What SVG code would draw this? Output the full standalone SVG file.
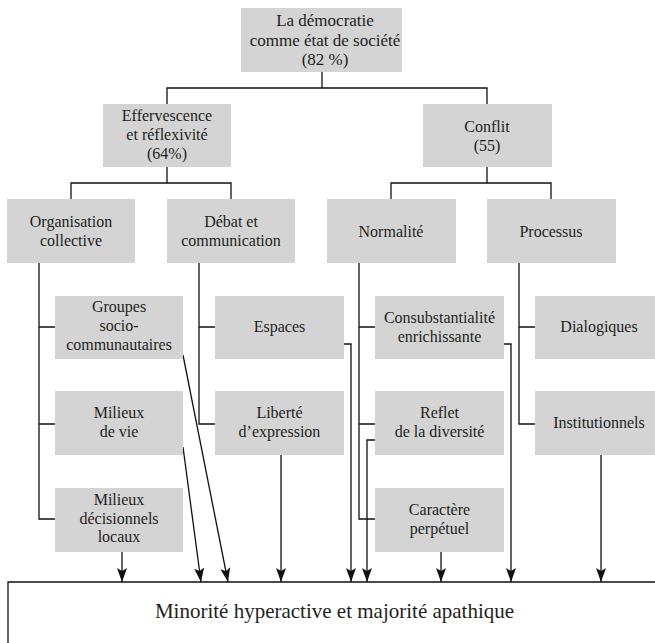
<svg xmlns="http://www.w3.org/2000/svg" width="655" height="643" viewBox="0 0 655 643">
<style>
.box{fill:#d4d4d5;stroke:none}
text{font-family:"Liberation Serif","Times New Roman",serif;font-size:16px;fill:#231f20;text-anchor:middle}
.ln{fill:none;stroke:#111;stroke-width:1.3}
.ar{fill:none;stroke:#111;stroke-width:1.3;marker-end:url(#ah)}
</style>
<defs>
<marker id="ah" markerUnits="userSpaceOnUse" markerWidth="15" markerHeight="11" refX="14" refY="5" orient="auto" viewBox="0 0 15 10">
<path d="M0,0 L14,5 L0,10 L3,5 z" fill="#111"/>
</marker>
</defs>
<rect width="655" height="643" fill="#fff"/>
<g id="connectors">
<path class="ln" d="M322,72V88M167,104V88H487V104"/>
<path class="ln" d="M167,167V183M71,199V183H231V199"/>
<path class="ln" d="M487,167V183M391,199V183H551V199"/>
<path class="ln" d="M39,263V519H55M39,327H55M39,424H55"/>
<path class="ln" d="M199,263V424H215M199,327H215"/>
<path class="ln" d="M359,263V519H375M359,327H375M359,424H375"/>
<path class="ln" d="M519,263V424H535M519,327H535"/>
<path class="ar" d="M122,552V582"/>
<path class="ar" d="M183,447L201,582"/>
<path class="ar" d="M183,355L228,582"/>
<path class="ar" d="M281,455V582"/>
<path class="ar" d="M344,344H351V582"/>
<path class="ar" d="M375,440H367V582"/>
<path class="ar" d="M441,552V582"/>
<path class="ar" d="M504,344H511V582"/>
<path class="ar" d="M601,455V582"/>
</g>
<g id="n-root"><rect class="box" x="241" y="8" width="161" height="64"/><text x="325" y="26" style="font-size:17px">La démocratie</text><text x="325" y="45.5" style="font-size:17px">comme état de société</text><text x="325" y="65" style="font-size:17px">(82 %)</text></g>
<g id="n-eff"><rect class="box" x="103" y="104" width="128" height="63"/><text x="167" y="121">Effervescence</text><text x="167" y="140">et réflexivité</text><text x="167" y="159">(64%)</text></g>
<g id="n-conflit"><rect class="box" x="423" y="104" width="129" height="63"/><text x="487" y="131.5">Conflit</text><text x="487" y="150.5">(55)</text></g>
<g id="n-org"><rect class="box" x="7" y="199" width="128" height="64"/><text x="71" y="227">Organisation</text><text x="71" y="245.5">collective</text></g>
<g id="n-debat"><rect class="box" x="167" y="199" width="128" height="64"/><text x="231" y="227">Débat et</text><text x="231" y="245.5">communication</text></g>
<g id="n-norm"><rect class="box" x="327" y="199" width="129" height="64"/><text x="391" y="236.5">Normalité</text></g>
<g id="n-proc"><rect class="box" x="487" y="199" width="129" height="64"/><text x="551" y="236.5">Processus</text></g>
<g id="n-groupes"><rect class="box" x="55" y="296" width="128" height="63"/><text x="119" y="312">Groupes</text><text x="119" y="331">socio-</text><text x="119" y="350">communautaires</text></g>
<g id="n-espaces"><rect class="box" x="215" y="296" width="129" height="63"/><text x="279.5" y="332">Espaces</text></g>
<g id="n-consub"><rect class="box" x="375" y="296" width="129" height="63"/><text x="439.5" y="323">Consubstantialité</text><text x="439.5" y="341.5">enrichissante</text></g>
<g id="n-dialog"><rect class="box" x="535" y="296" width="128" height="63"/><text x="599" y="332">Dialogiques</text></g>
<g id="n-milvie"><rect class="box" x="55" y="391" width="128" height="64"/><text x="119" y="418">Milieux</text><text x="119" y="437">de vie</text></g>
<g id="n-liberte"><rect class="box" x="215" y="391" width="129" height="64"/><text x="279.5" y="418">Liberté</text><text x="279.5" y="437">d’expression</text></g>
<g id="n-reflet"><rect class="box" x="375" y="391" width="129" height="64"/><text x="439.5" y="418">Reflet</text><text x="439.5" y="437">de la diversité</text></g>
<g id="n-instit"><rect class="box" x="535" y="391" width="128" height="64"/><text x="599" y="428">Institutionnels</text></g>
<g id="n-decis"><rect class="box" x="55" y="488" width="128" height="64"/><text x="119" y="505">Milieux</text><text x="119" y="523.5">décisionnels</text><text x="119" y="542">locaux</text></g>
<g id="n-caract"><rect class="box" x="375" y="488" width="129" height="64"/><text x="439.5" y="515">Caractère</text><text x="439.5" y="533.5">perpétuel</text></g>
<g id="n-bottom"><path class="ln" d="M8,643V582H655"/><text x="334.5" y="618" style="font-size:21px">Minorité hyperactive et majorité apathique</text></g>
</svg>
